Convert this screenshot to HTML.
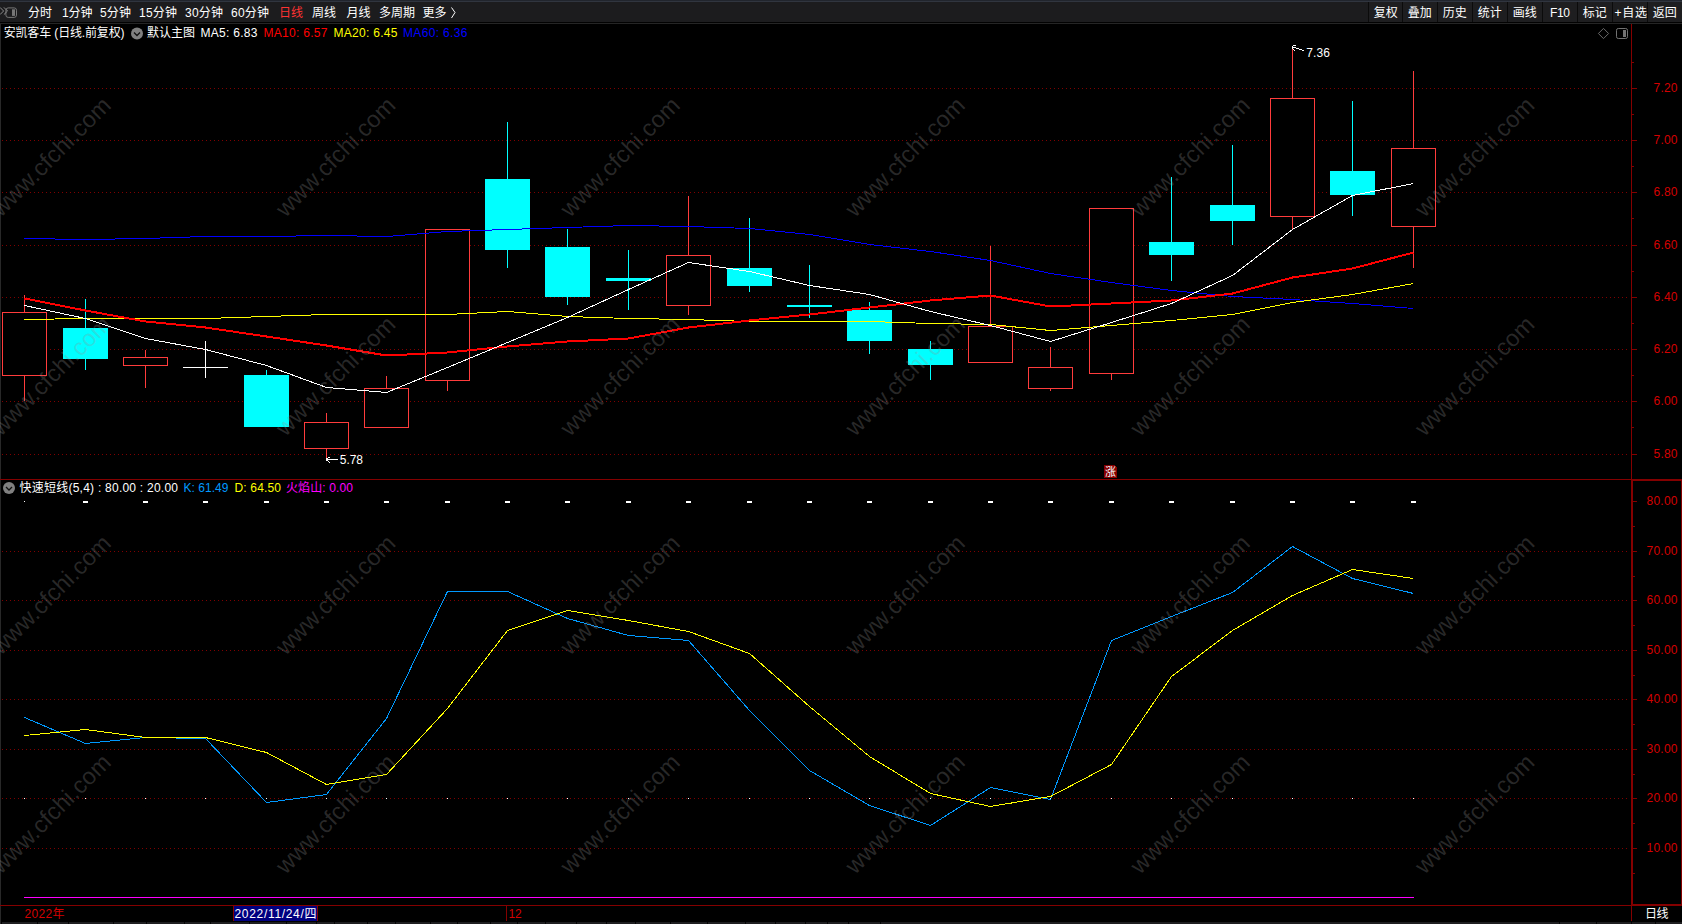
<!DOCTYPE html><html><head><meta charset="utf-8"><title>安凯客车 日线</title>
<style>html,body{margin:0;padding:0;background:#000;overflow:hidden}svg{display:block}text{font-family:"Liberation Sans","Noto Sans CJK SC",sans-serif;font-size:12px;white-space:pre}.wm text{font-size:23.6px;fill:#919191;fill-opacity:.28}.ce{shape-rendering:crispEdges}</style></head><body>
<svg width="1682" height="924" viewBox="0 0 1682 924">
<rect width="1682" height="924" fill="#000"/>
<g class="ce">
<line x1="2" y1="88.5" x2="1629" y2="88.5" stroke="#800000" stroke-width="1" stroke-dasharray="1 3"/>
<line x1="2" y1="140.5" x2="1629" y2="140.5" stroke="#800000" stroke-width="1" stroke-dasharray="1 3"/>
<line x1="2" y1="192.5" x2="1629" y2="192.5" stroke="#800000" stroke-width="1" stroke-dasharray="1 3"/>
<line x1="2" y1="245.5" x2="1629" y2="245.5" stroke="#800000" stroke-width="1" stroke-dasharray="1 3"/>
<line x1="2" y1="297.5" x2="1629" y2="297.5" stroke="#800000" stroke-width="1" stroke-dasharray="1 3"/>
<line x1="2" y1="349.5" x2="1629" y2="349.5" stroke="#800000" stroke-width="1" stroke-dasharray="1 3"/>
<line x1="2" y1="401.5" x2="1629" y2="401.5" stroke="#800000" stroke-width="1" stroke-dasharray="1 3"/>
<line x1="2" y1="454.5" x2="1629" y2="454.5" stroke="#800000" stroke-width="1" stroke-dasharray="1 3"/>
<line x1="2" y1="551.5" x2="1629" y2="551.5" stroke="#800000" stroke-width="1" stroke-dasharray="1 3"/>
<line x1="2" y1="600.5" x2="1629" y2="600.5" stroke="#800000" stroke-width="1" stroke-dasharray="1 3"/>
<line x1="2" y1="650.5" x2="1629" y2="650.5" stroke="#800000" stroke-width="1" stroke-dasharray="1 3"/>
<line x1="2" y1="699.5" x2="1629" y2="699.5" stroke="#800000" stroke-width="1" stroke-dasharray="1 3"/>
<line x1="2" y1="749.5" x2="1629" y2="749.5" stroke="#800000" stroke-width="1" stroke-dasharray="1 3"/>
<line x1="2" y1="798.5" x2="1629" y2="798.5" stroke="#800000" stroke-width="1" stroke-dasharray="1 3"/>
<line x1="2" y1="848.5" x2="1629" y2="848.5" stroke="#800000" stroke-width="1" stroke-dasharray="1 3"/>
</g>
<g class="ce">
<rect x="24" y="295" width="1" height="106" fill="#ff3c3c"/>
<rect x="2.5" y="312.5" width="44" height="63" fill="#000" stroke="#ff3c3c" stroke-width="1"/>
<rect x="85" y="299" width="1" height="71" fill="#00ffff"/>
<rect x="63" y="328" width="45" height="31" fill="#00ffff"/>
<rect x="145" y="350" width="1" height="38" fill="#ff3c3c"/>
<rect x="123.5" y="357.5" width="44" height="8" fill="#000" stroke="#ff3c3c" stroke-width="1"/>
<rect x="205" y="341" width="1" height="37" fill="#ffffff"/>
<rect x="183" y="367" width="45" height="1" fill="#ffffff"/>
<rect x="266" y="370" width="1" height="57" fill="#00ffff"/>
<rect x="244" y="375" width="45" height="52" fill="#00ffff"/>
<rect x="326" y="413" width="1" height="48" fill="#ff3c3c"/>
<rect x="304.5" y="422.5" width="44" height="26" fill="#000" stroke="#ff3c3c" stroke-width="1"/>
<rect x="386" y="376" width="1" height="52" fill="#ff3c3c"/>
<rect x="364.5" y="388.5" width="44" height="39" fill="#000" stroke="#ff3c3c" stroke-width="1"/>
<rect x="447" y="229" width="1" height="162" fill="#ff3c3c"/>
<rect x="425.5" y="229.5" width="44" height="151" fill="#000" stroke="#ff3c3c" stroke-width="1"/>
<rect x="507" y="122" width="1" height="146" fill="#00ffff"/>
<rect x="485" y="179" width="45" height="71" fill="#00ffff"/>
<rect x="567" y="229" width="1" height="76" fill="#00ffff"/>
<rect x="545" y="247" width="45" height="50" fill="#00ffff"/>
<rect x="628" y="250" width="1" height="60" fill="#00ffff"/>
<rect x="606" y="278" width="45" height="3" fill="#00ffff"/>
<rect x="688" y="196" width="1" height="119" fill="#ff3c3c"/>
<rect x="666.5" y="255.5" width="44" height="50" fill="#000" stroke="#ff3c3c" stroke-width="1"/>
<rect x="749" y="218" width="1" height="74" fill="#00ffff"/>
<rect x="727" y="268" width="45" height="18" fill="#00ffff"/>
<rect x="809" y="265" width="1" height="53" fill="#00ffff"/>
<rect x="787" y="305" width="45" height="2" fill="#00ffff"/>
<rect x="869" y="302" width="1" height="52" fill="#00ffff"/>
<rect x="847" y="310" width="45" height="31" fill="#00ffff"/>
<rect x="930" y="341" width="1" height="39" fill="#00ffff"/>
<rect x="908" y="349" width="45" height="16" fill="#00ffff"/>
<rect x="990" y="246" width="1" height="117" fill="#ff3c3c"/>
<rect x="968.5" y="326.5" width="44" height="36" fill="#000" stroke="#ff3c3c" stroke-width="1"/>
<rect x="1050" y="347" width="1" height="44" fill="#ff3c3c"/>
<rect x="1028.5" y="367.5" width="44" height="21" fill="#000" stroke="#ff3c3c" stroke-width="1"/>
<rect x="1111" y="208" width="1" height="172" fill="#ff3c3c"/>
<rect x="1089.5" y="208.5" width="44" height="165" fill="#000" stroke="#ff3c3c" stroke-width="1"/>
<rect x="1171" y="177" width="1" height="104" fill="#00ffff"/>
<rect x="1149" y="242" width="45" height="13" fill="#00ffff"/>
<rect x="1232" y="145" width="1" height="100" fill="#00ffff"/>
<rect x="1210" y="205" width="45" height="16" fill="#00ffff"/>
<rect x="1292" y="46" width="1" height="183" fill="#ff3c3c"/>
<rect x="1270.5" y="98.5" width="44" height="118" fill="#000" stroke="#ff3c3c" stroke-width="1"/>
<rect x="1352" y="101" width="1" height="115" fill="#00ffff"/>
<rect x="1330" y="171" width="45" height="24" fill="#00ffff"/>
<rect x="1413" y="71" width="1" height="197" fill="#ff3c3c"/>
<rect x="1391.5" y="148.5" width="44" height="78" fill="#000" stroke="#ff3c3c" stroke-width="1"/>
</g>
<g class="ce">
<polyline points="24.5,238.5 85.5,239.5 145.5,238.5 205.5,236.5 266.5,236.5 326.5,235.5 386.5,236.5 447.5,231.5 507.5,229.5 567.5,227.5 628.5,225.5 688.5,226.5 749.5,228.5 809.5,234.5 869.5,244.5 930.5,251.5 990.5,260.5 1050.5,273.5 1111.5,282.5 1171.5,290.5 1232.5,296.5 1292.5,299.5 1352.5,303.5 1413.5,308.5" fill="none" stroke="#0000ff" stroke-width="1" />
<polyline points="24.5,319.5 85.5,318.5 145.5,318.5 205.5,318.5 266.5,316.5 326.5,314.5 386.5,314.5 447.5,314.5 507.5,311.5 567.5,316.5 628.5,318.5 688.5,319.5 749.5,321.5 809.5,321.5 869.5,321.5 930.5,323.5 990.5,324.5 1050.5,330.5 1111.5,325.5 1171.5,320.5 1232.5,314.5 1292.5,302.5 1352.5,294.5 1413.5,283.5" fill="none" stroke="#ffff00" stroke-width="1" />
<polyline points="24.5,298.5 85.5,310.5 145.5,321.5 205.5,327.5 266.5,336.5 326.5,345.5 386.5,355.5 447.5,352.5 507.5,346.5 567.5,341.5 628.5,338.5 688.5,327.5 749.5,320.5 809.5,314.5 869.5,307.5 930.5,300.5 990.5,295.5 1050.5,306.5 1111.5,303.5 1171.5,300.5 1232.5,293.5 1292.5,277.5 1352.5,268.5 1413.5,252.5" fill="none" stroke="#ff0000" stroke-width="2" />
<polyline points="24.5,305.5 85.5,318.5 145.5,338.5 205.5,349.5 266.5,365.5 326.5,387.5 386.5,392.5 447.5,367.5 507.5,342.5 567.5,317.5 628.5,289.5 688.5,262.5 749.5,271.5 809.5,285.5 869.5,294.5 930.5,311.5 990.5,325.5 1050.5,341.5 1111.5,322.5 1171.5,303.5 1232.5,275.5 1292.5,229.5 1352.5,195.5 1413.5,183.5" fill="none" stroke="#ffffff" stroke-width="1" />
<polyline points="24.5,717.5 85.5,743.5 145.5,737.5 205.5,738.5 266.5,802.5 326.5,794.5 386.5,718.5 447.5,591.5 507.5,591.5 567.5,618.5 628.5,635.5 688.5,640.5 749.5,710.5 809.5,770.5 869.5,805.5 930.5,825.5 990.5,787.5 1050.5,799.5 1111.5,640.5 1171.5,616.5 1232.5,592.5 1292.5,546.5 1352.5,578.5 1413.5,593.5" fill="none" stroke="#0099ff" stroke-width="1" />
<polyline points="24.5,735.5 85.5,729.5 145.5,737.5 205.5,737.5 266.5,752.5 326.5,784.5 386.5,774.5 447.5,708.5 507.5,630.5 567.5,610.5 628.5,620.5 688.5,631.5 749.5,653.5 809.5,706.5 869.5,756.5 930.5,793.5 990.5,806.5 1050.5,796.5 1111.5,764.5 1171.5,676.5 1232.5,630.5 1292.5,595.5 1352.5,569.5 1413.5,578.5" fill="none" stroke="#ffff00" stroke-width="1" />
<rect x="24" y="897" width="1390" height="1" fill="#ff00ff"/>
<rect x="24" y="501" width="1" height="1" fill="#fff"/>
<rect x="24" y="798" width="1" height="1" fill="#fff"/>
<rect x="83" y="501" width="5" height="2" fill="#fff"/>
<rect x="85" y="798" width="1" height="1" fill="#fff"/>
<rect x="143" y="501" width="5" height="2" fill="#fff"/>
<rect x="145" y="798" width="1" height="1" fill="#fff"/>
<rect x="203" y="501" width="5" height="2" fill="#fff"/>
<rect x="205" y="798" width="1" height="1" fill="#fff"/>
<rect x="264" y="501" width="5" height="2" fill="#fff"/>
<rect x="266" y="798" width="1" height="1" fill="#fff"/>
<rect x="324" y="501" width="5" height="2" fill="#fff"/>
<rect x="326" y="798" width="1" height="1" fill="#fff"/>
<rect x="384" y="501" width="5" height="2" fill="#fff"/>
<rect x="386" y="798" width="1" height="1" fill="#fff"/>
<rect x="445" y="501" width="5" height="2" fill="#fff"/>
<rect x="447" y="798" width="1" height="1" fill="#fff"/>
<rect x="505" y="501" width="5" height="2" fill="#fff"/>
<rect x="507" y="798" width="1" height="1" fill="#fff"/>
<rect x="565" y="501" width="5" height="2" fill="#fff"/>
<rect x="567" y="798" width="1" height="1" fill="#fff"/>
<rect x="626" y="501" width="5" height="2" fill="#fff"/>
<rect x="628" y="798" width="1" height="1" fill="#fff"/>
<rect x="686" y="501" width="5" height="2" fill="#fff"/>
<rect x="688" y="798" width="1" height="1" fill="#fff"/>
<rect x="747" y="501" width="5" height="2" fill="#fff"/>
<rect x="749" y="798" width="1" height="1" fill="#fff"/>
<rect x="807" y="501" width="5" height="2" fill="#fff"/>
<rect x="809" y="798" width="1" height="1" fill="#fff"/>
<rect x="867" y="501" width="5" height="2" fill="#fff"/>
<rect x="869" y="798" width="1" height="1" fill="#fff"/>
<rect x="928" y="501" width="5" height="2" fill="#fff"/>
<rect x="930" y="798" width="1" height="1" fill="#fff"/>
<rect x="988" y="501" width="5" height="2" fill="#fff"/>
<rect x="990" y="798" width="1" height="1" fill="#fff"/>
<rect x="1048" y="501" width="5" height="2" fill="#fff"/>
<rect x="1050" y="798" width="1" height="1" fill="#fff"/>
<rect x="1109" y="501" width="5" height="2" fill="#fff"/>
<rect x="1111" y="798" width="1" height="1" fill="#fff"/>
<rect x="1169" y="501" width="5" height="2" fill="#fff"/>
<rect x="1171" y="798" width="1" height="1" fill="#fff"/>
<rect x="1230" y="501" width="5" height="2" fill="#fff"/>
<rect x="1232" y="798" width="1" height="1" fill="#fff"/>
<rect x="1290" y="501" width="5" height="2" fill="#fff"/>
<rect x="1292" y="798" width="1" height="1" fill="#fff"/>
<rect x="1350" y="501" width="5" height="2" fill="#fff"/>
<rect x="1352" y="798" width="1" height="1" fill="#fff"/>
<rect x="1411" y="501" width="5" height="2" fill="#fff"/>
<rect x="1413" y="798" width="1" height="1" fill="#fff"/>
</g>
<g class="ce">
<rect x="0" y="24" width="1" height="900" fill="#282828"/>
<rect x="1631" y="24" width="1" height="455" fill="#840000"/>
<rect x="0" y="479" width="1682" height="1" fill="#840000"/>
<rect x="1631" y="479" width="51" height="2" fill="#840000"/>
<rect x="1631" y="479" width="2" height="427" fill="#840000"/>
<rect x="1681" y="479" width="1" height="427" fill="#840000"/>
<rect x="0" y="905" width="1682" height="1" fill="#840000"/>
<rect x="1631" y="904" width="51" height="2" fill="#840000"/>
<rect x="1631" y="906" width="1" height="15" fill="#840000"/>
<rect x="1632" y="88" width="5" height="1" fill="#840000"/>
<rect x="1632" y="140" width="5" height="1" fill="#840000"/>
<rect x="1632" y="192" width="5" height="1" fill="#840000"/>
<rect x="1632" y="245" width="5" height="1" fill="#840000"/>
<rect x="1632" y="297" width="5" height="1" fill="#840000"/>
<rect x="1632" y="349" width="5" height="1" fill="#840000"/>
<rect x="1632" y="401" width="5" height="1" fill="#840000"/>
<rect x="1632" y="454" width="5" height="1" fill="#840000"/>
<rect x="1632" y="62" width="2" height="1" fill="#840000"/>
<rect x="1632" y="114" width="2" height="1" fill="#840000"/>
<rect x="1632" y="166" width="2" height="1" fill="#840000"/>
<rect x="1632" y="218" width="2" height="1" fill="#840000"/>
<rect x="1632" y="271" width="2" height="1" fill="#840000"/>
<rect x="1632" y="323" width="2" height="1" fill="#840000"/>
<rect x="1632" y="375" width="2" height="1" fill="#840000"/>
<rect x="1632" y="427" width="2" height="1" fill="#840000"/>
<rect x="1633" y="501" width="4" height="1" fill="#840000"/>
<rect x="1633" y="551" width="4" height="1" fill="#840000"/>
<rect x="1633" y="600" width="4" height="1" fill="#840000"/>
<rect x="1633" y="650" width="4" height="1" fill="#840000"/>
<rect x="1633" y="699" width="4" height="1" fill="#840000"/>
<rect x="1633" y="749" width="4" height="1" fill="#840000"/>
<rect x="1633" y="798" width="4" height="1" fill="#840000"/>
<rect x="1633" y="848" width="4" height="1" fill="#840000"/>
<rect x="1633" y="526" width="2" height="1" fill="#840000"/>
<rect x="1633" y="576" width="2" height="1" fill="#840000"/>
<rect x="1633" y="625" width="2" height="1" fill="#840000"/>
<rect x="1633" y="675" width="2" height="1" fill="#840000"/>
<rect x="1633" y="724" width="2" height="1" fill="#840000"/>
<rect x="1633" y="774" width="2" height="1" fill="#840000"/>
<rect x="1633" y="823" width="2" height="1" fill="#840000"/>
<rect x="1633" y="873" width="2" height="1" fill="#840000"/>
</g>
<text x="1653.5" y="92.3" fill="#d40000" text-anchor="start" textLength="24" >7.20</text>
<text x="1653.5" y="144.3" fill="#d40000" text-anchor="start" textLength="24" >7.00</text>
<text x="1653.5" y="196.3" fill="#d40000" text-anchor="start" textLength="24" >6.80</text>
<text x="1653.5" y="249.3" fill="#d40000" text-anchor="start" textLength="24" >6.60</text>
<text x="1653.5" y="301.3" fill="#d40000" text-anchor="start" textLength="24" >6.40</text>
<text x="1653.5" y="353.3" fill="#d40000" text-anchor="start" textLength="24" >6.20</text>
<text x="1653.5" y="405.3" fill="#d40000" text-anchor="start" textLength="24" >6.00</text>
<text x="1653.5" y="458.3" fill="#d40000" text-anchor="start" textLength="24" >5.80</text>
<text x="1646.5" y="505.3" fill="#d40000" text-anchor="start" textLength="31" >80.00</text>
<text x="1646.5" y="555.3" fill="#d40000" text-anchor="start" textLength="31" >70.00</text>
<text x="1646.5" y="604.3" fill="#d40000" text-anchor="start" textLength="31" >60.00</text>
<text x="1646.5" y="654.3" fill="#d40000" text-anchor="start" textLength="31" >50.00</text>
<text x="1646.5" y="703.3" fill="#d40000" text-anchor="start" textLength="31" >40.00</text>
<text x="1646.5" y="753.3" fill="#d40000" text-anchor="start" textLength="31" >30.00</text>
<text x="1646.5" y="802.3" fill="#d40000" text-anchor="start" textLength="31" >20.00</text>
<text x="1646.5" y="852.3" fill="#d40000" text-anchor="start" textLength="31" >10.00</text>
<g class="ce">
<rect x="0" y="0" width="1682" height="1" fill="#21252d"/>
<rect x="0" y="1" width="1682" height="1" fill="#30353f"/>
<rect x="0" y="2" width="1682" height="20" fill="#1c1c1e"/>
<rect x="0" y="22" width="1682" height="1" fill="#020202"/>
<rect x="0" y="23" width="1682" height="1" fill="#252525"/>
<rect x="1368" y="2" width="34" height="20" fill="#1e1e20"/>
<rect x="1368" y="2" width="1" height="20" fill="#0b0b0b"/>
<rect x="1402" y="2" width="35" height="20" fill="#1e1e20"/>
<rect x="1402" y="2" width="1" height="20" fill="#0b0b0b"/>
<rect x="1437" y="2" width="35" height="20" fill="#1e1e20"/>
<rect x="1437" y="2" width="1" height="20" fill="#0b0b0b"/>
<rect x="1472" y="2" width="35" height="20" fill="#1e1e20"/>
<rect x="1472" y="2" width="1" height="20" fill="#0b0b0b"/>
<rect x="1507" y="2" width="35" height="20" fill="#1e1e20"/>
<rect x="1507" y="2" width="1" height="20" fill="#0b0b0b"/>
<rect x="1542" y="2" width="35" height="20" fill="#1e1e20"/>
<rect x="1542" y="2" width="1" height="20" fill="#0b0b0b"/>
<rect x="1577" y="2" width="35" height="20" fill="#1e1e20"/>
<rect x="1577" y="2" width="1" height="20" fill="#0b0b0b"/>
<rect x="1612" y="2" width="35" height="20" fill="#1e1e20"/>
<rect x="1612" y="2" width="1" height="20" fill="#0b0b0b"/>
<rect x="1647" y="2" width="35" height="20" fill="#1e1e20"/>
<rect x="1647" y="2" width="1" height="20" fill="#0b0b0b"/>
</g>
<g fill="none" stroke="#767676" stroke-width="1">
<rect x="5.9" y="7.9" width="10.6" height="9.5" rx="2.3" fill="#1c1c1e"/>
<rect x="12" y="9.3" width="3" height="6.6" fill="#767676" stroke="none"/>
<path d="M0 7.4 L3.6 11 L0 14.6 M3.9 7.4 L7.5 11 L3.9 14.6" stroke="#8c8c8c"/>
</g>
<text x="28" y="17" fill="#fff" text-anchor="start" textLength="24" >分时</text>
<text x="62" y="17" fill="#fff" text-anchor="start" textLength="30.5" >1分钟</text>
<text x="100" y="17" fill="#fff" text-anchor="start" textLength="31" >5分钟</text>
<text x="139" y="17" fill="#fff" text-anchor="start" textLength="38" >15分钟</text>
<text x="185" y="17" fill="#fff" text-anchor="start" textLength="38" >30分钟</text>
<text x="231" y="17" fill="#fff" text-anchor="start" textLength="38" >60分钟</text>
<text x="279" y="17" fill="#ff3232" text-anchor="start" textLength="24" >日线</text>
<text x="312" y="17" fill="#fff" text-anchor="start" textLength="24" >周线</text>
<text x="346.5" y="17" fill="#fff" text-anchor="start" textLength="24" >月线</text>
<text x="379" y="17" fill="#fff" text-anchor="start" textLength="36" >多周期</text>
<text x="422.5" y="17" fill="#fff" text-anchor="start" textLength="24" >更多</text>
<path d="M451.5 7.5 L455 12.5 L451.5 18" fill="none" stroke="#fff" stroke-width="1"/>
<text x="1373.8" y="17" fill="#fff" text-anchor="start" textLength="24" >复权</text>
<text x="1407.8" y="17" fill="#fff" text-anchor="start" textLength="24" >叠加</text>
<text x="1442.8" y="17" fill="#fff" text-anchor="start" textLength="24" >历史</text>
<text x="1477.8" y="17" fill="#fff" text-anchor="start" textLength="24" >统计</text>
<text x="1512.8" y="17" fill="#fff" text-anchor="start" textLength="24" >画线</text>
<text x="1550" y="17" fill="#fff" text-anchor="start" textLength="20" >F10</text>
<text x="1582.8" y="17" fill="#fff" text-anchor="start" textLength="24" >标记</text>
<text x="1614.5" y="17" fill="#fff" text-anchor="start" textLength="32.5" >+自选</text>
<text x="1652.8" y="17" fill="#fff" text-anchor="start" textLength="24" >返回</text>
<text x="3.7" y="36.6" fill="#fff" text-anchor="start" textLength="47.5" >安凯客车</text>
<text x="54.3" y="36.6" fill="#fff" text-anchor="start" textLength="70.2" >(日线.前复权)</text>
<circle cx="137" cy="33.5" r="6" fill="#808080"/>
<path d="M134 32.5 L137 35.5 L140 32.5" fill="none" stroke="#111" stroke-width="1.3"/>
<text x="147" y="36.6" fill="#fff" text-anchor="start" textLength="48" >默认主图</text>
<text x="200.5" y="36.6" fill="#fff" text-anchor="start" textLength="57" >MA5: 6.83</text>
<text x="263.5" y="36.6" fill="#ff0000" text-anchor="start" textLength="64" >MA10: 6.57</text>
<text x="333.5" y="36.6" fill="#ffff00" text-anchor="start" textLength="64" >MA20: 6.45</text>
<text x="403" y="36.6" fill="#0000ff" text-anchor="start" textLength="64.5" >MA60: 6.36</text>
<path d="M1603.5 28.4 L1608.6 33.5 L1603.5 38.6 L1598.4 33.5 Z" fill="none" stroke="#6a6a6a" stroke-width="1"/>
<rect x="1616.5" y="28.5" width="11" height="10" rx="1.8" fill="none" stroke="#727272" stroke-width="1"/>
<rect x="1623" y="30" width="3" height="7" fill="#727272"/>
<text x="1306.3" y="57" fill="#fff" text-anchor="start" textLength="23.7" >7.36</text>
<g class="ce" fill="#fff">
<rect x="1292" y="46" width="1" height="3"/>
<rect x="1293" y="45" width="3" height="1"/>
<rect x="1293" y="47" width="3" height="1"/>
<rect x="1296" y="48" width="3" height="1"/>
<rect x="1299" y="49" width="3" height="1"/>
<rect x="1302" y="50" width="2" height="1"/>
<rect x="1293" y="49" width="1" height="1"/>
<rect x="1294" y="50" width="1" height="1"/>
<rect x="326" y="458" width="1" height="3"/>
<rect x="327" y="459" width="11" height="1"/>
<rect x="327" y="458" width="1" height="1"/>
<rect x="328" y="457" width="2" height="1"/>
<rect x="327" y="460" width="1" height="1"/>
<rect x="328" y="461" width="1" height="1"/>
<rect x="329" y="462" width="1" height="1"/>
</g>
<text x="339.8" y="464" fill="#fff" text-anchor="start" textLength="23.2" >5.78</text>
<path d="M1104 465 H1115 V466 H1116 V467 H1117 V478 H1104 Z" fill="#860000" class="ce"/>
<text x="1105" y="475.5" fill="#fff" style="font-size:11px">涨</text>
<circle cx="9" cy="488" r="6" fill="#808080"/>
<path d="M6 487 L9 490 L12 487" fill="none" stroke="#111" stroke-width="1.3"/>
<text x="19.5" y="491.6" fill="#fff" text-anchor="start" textLength="158.5" >快速短线(5,4) : 80.00 : 20.00</text>
<text x="183.5" y="491.6" fill="#0099ff" text-anchor="start" textLength="45" >K: 61.49</text>
<text x="234.5" y="491.6" fill="#ffff00" text-anchor="start" textLength="46.5" >D: 64.50</text>
<text x="286" y="491.6" fill="#ff00ff" text-anchor="start" textLength="67" >火焰山: 0.00</text>
<text x="24.5" y="918" fill="#d40000" text-anchor="start" textLength="40" >2022年</text>
<rect x="233" y="906" width="85" height="15" fill="#000080" class="ce"/>
<rect x="317" y="906" width="1" height="15" fill="#840000" class="ce"/>
<rect x="233" y="906" width="1" height="15" fill="#840000" class="ce"/>
<text x="234.5" y="918" fill="#fff" text-anchor="start" textLength="82" >2022/11/24/四</text>
<rect x="506" y="906" width="1" height="15" fill="#840000" class="ce"/>
<text x="508.4" y="918" fill="#d40000" text-anchor="start" textLength="13.3" >12</text>
<text x="1645" y="918" fill="#fff" text-anchor="start" textLength="23.5" >日线</text>
<g class="ce">
<rect x="2" y="922" width="1680" height="2" fill="#1e1e20"/>
<rect x="37" y="922" width="1" height="2" fill="#050505"/>
<rect x="68" y="922" width="1" height="2" fill="#050505"/>
<rect x="113" y="922" width="1" height="2" fill="#050505"/>
<rect x="146" y="922" width="1" height="2" fill="#050505"/>
<rect x="184" y="922" width="1" height="2" fill="#050505"/>
<rect x="210" y="922" width="1" height="2" fill="#050505"/>
<rect x="249" y="922" width="1" height="2" fill="#050505"/>
<rect x="286" y="922" width="1" height="2" fill="#050505"/>
<rect x="316" y="922" width="1" height="2" fill="#050505"/>
<rect x="334" y="922" width="1" height="2" fill="#050505"/>
<rect x="367" y="922" width="1" height="2" fill="#050505"/>
<rect x="395" y="922" width="1" height="2" fill="#050505"/>
<rect x="430" y="922" width="1" height="2" fill="#050505"/>
<rect x="457" y="922" width="1" height="2" fill="#050505"/>
<rect x="490" y="922" width="1" height="2" fill="#050505"/>
<rect x="517" y="922" width="1" height="2" fill="#050505"/>
<rect x="545" y="922" width="1" height="2" fill="#050505"/>
<rect x="576" y="922" width="1" height="2" fill="#050505"/>
<rect x="606" y="922" width="1" height="2" fill="#050505"/>
<rect x="635" y="922" width="1" height="2" fill="#050505"/>
<rect x="670" y="922" width="1" height="2" fill="#050505"/>
<rect x="707" y="922" width="1" height="2" fill="#050505"/>
<rect x="745" y="922" width="1" height="2" fill="#050505"/>
<rect x="775" y="922" width="1" height="2" fill="#050505"/>
<rect x="805" y="922" width="1" height="2" fill="#050505"/>
<rect x="827" y="922" width="1" height="2" fill="#050505"/>
<rect x="848" y="922" width="1" height="2" fill="#050505"/>
<rect x="880" y="922" width="1" height="2" fill="#050505"/>
<rect x="1559" y="922" width="1" height="2" fill="#050505"/>
<rect x="1596" y="922" width="1" height="2" fill="#050505"/>
<rect x="1631" y="922" width="1" height="2" fill="#050505"/>
<rect x="1655" y="922" width="1" height="2" fill="#050505"/>
</g>
<g class="wm">
<text x="50.7" y="156.5" text-anchor="middle" textLength="157.5" transform="rotate(-45 50.7 156.5)" dy="8.4">www.cfchi.com</text>
<text x="335.2" y="156.5" text-anchor="middle" textLength="157.5" transform="rotate(-45 335.2 156.5)" dy="8.4">www.cfchi.com</text>
<text x="619.7" y="156.5" text-anchor="middle" textLength="157.5" transform="rotate(-45 619.7 156.5)" dy="8.4">www.cfchi.com</text>
<text x="904.7" y="156.5" text-anchor="middle" textLength="157.5" transform="rotate(-45 904.7 156.5)" dy="8.4">www.cfchi.com</text>
<text x="1189.7" y="156.5" text-anchor="middle" textLength="157.5" transform="rotate(-45 1189.7 156.5)" dy="8.4">www.cfchi.com</text>
<text x="1474.2" y="156.5" text-anchor="middle" textLength="157.5" transform="rotate(-45 1474.2 156.5)" dy="8.4">www.cfchi.com</text>
<text x="50.7" y="375.5" text-anchor="middle" textLength="157.5" transform="rotate(-45 50.7 375.5)" dy="8.4">www.cfchi.com</text>
<text x="335.2" y="375.5" text-anchor="middle" textLength="157.5" transform="rotate(-45 335.2 375.5)" dy="8.4">www.cfchi.com</text>
<text x="619.7" y="375.5" text-anchor="middle" textLength="157.5" transform="rotate(-45 619.7 375.5)" dy="8.4">www.cfchi.com</text>
<text x="904.7" y="375.5" text-anchor="middle" textLength="157.5" transform="rotate(-45 904.7 375.5)" dy="8.4">www.cfchi.com</text>
<text x="1189.7" y="375.5" text-anchor="middle" textLength="157.5" transform="rotate(-45 1189.7 375.5)" dy="8.4">www.cfchi.com</text>
<text x="1474.2" y="375.5" text-anchor="middle" textLength="157.5" transform="rotate(-45 1474.2 375.5)" dy="8.4">www.cfchi.com</text>
<text x="50.7" y="594.5" text-anchor="middle" textLength="157.5" transform="rotate(-45 50.7 594.5)" dy="8.4">www.cfchi.com</text>
<text x="335.2" y="594.5" text-anchor="middle" textLength="157.5" transform="rotate(-45 335.2 594.5)" dy="8.4">www.cfchi.com</text>
<text x="619.7" y="594.5" text-anchor="middle" textLength="157.5" transform="rotate(-45 619.7 594.5)" dy="8.4">www.cfchi.com</text>
<text x="904.7" y="594.5" text-anchor="middle" textLength="157.5" transform="rotate(-45 904.7 594.5)" dy="8.4">www.cfchi.com</text>
<text x="1189.7" y="594.5" text-anchor="middle" textLength="157.5" transform="rotate(-45 1189.7 594.5)" dy="8.4">www.cfchi.com</text>
<text x="1474.2" y="594.5" text-anchor="middle" textLength="157.5" transform="rotate(-45 1474.2 594.5)" dy="8.4">www.cfchi.com</text>
<text x="50.7" y="813.5" text-anchor="middle" textLength="157.5" transform="rotate(-45 50.7 813.5)" dy="8.4">www.cfchi.com</text>
<text x="335.2" y="813.5" text-anchor="middle" textLength="157.5" transform="rotate(-45 335.2 813.5)" dy="8.4">www.cfchi.com</text>
<text x="619.7" y="813.5" text-anchor="middle" textLength="157.5" transform="rotate(-45 619.7 813.5)" dy="8.4">www.cfchi.com</text>
<text x="904.7" y="813.5" text-anchor="middle" textLength="157.5" transform="rotate(-45 904.7 813.5)" dy="8.4">www.cfchi.com</text>
<text x="1189.7" y="813.5" text-anchor="middle" textLength="157.5" transform="rotate(-45 1189.7 813.5)" dy="8.4">www.cfchi.com</text>
<text x="1474.2" y="813.5" text-anchor="middle" textLength="157.5" transform="rotate(-45 1474.2 813.5)" dy="8.4">www.cfchi.com</text>
</g>
</svg></body></html>
